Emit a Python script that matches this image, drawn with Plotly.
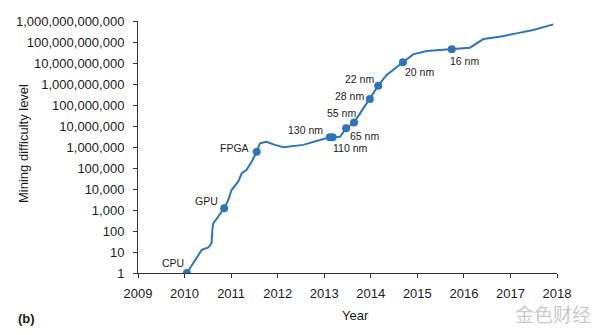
import math
import plotly.graph_objects as go

# Curve data (decimal year, mining difficulty)
years = [2010.05, 2010.19, 2010.30, 2010.37, 2010.51, 2010.58, 2010.60, 2010.62, 2010.72,
         2010.85, 2010.94, 2011.01, 2011.15, 2011.23, 2011.33, 2011.44, 2011.55, 2011.62,
         2011.76, 2011.94, 2012.12, 2012.55, 2012.91, 2013.12, 2013.18, 2013.34, 2013.47,
         2013.64, 2013.77, 2013.98, 2014.16, 2014.34, 2014.56, 2014.69, 2014.91, 2015.20,
         2015.74, 2016.13, 2016.42, 2016.77, 2017.13, 2017.49, 2017.92]
difficulty = [1, 2.9, 7.2, 12.6, 16.6, 25.7, 135, 234, 479,
              1200, 3020, 8900, 22400, 56200, 79400, 199500, 600000, 1510000,
              1780000, 1260000, 980000, 1260000, 2140000, 2900000, 2900000, 3090000, 7800000,
              14500000, 39800000, 195000000, 830000000, 2690000000, 6600000000, 11000000000,
              25700000000, 37200000000, 45000000000, 53700000000, 138000000000,
              178000000000, 257000000000, 372000000000, 690000000000]

# Hardware milestones
milestone_labels = ["CPU", "GPU", "FPGA", "130 nm", "110 nm", "65 nm", "55 nm",
                    "28 nm", "22 nm", "20 nm", "16 nm"]
milestone_years = [2010.05, 2010.85, 2011.55, 2013.12, 2013.18, 2013.47, 2013.64,
                   2013.98, 2014.16, 2014.69, 2015.74]
milestone_values = [1, 1200, 600000, 2900000, 2900000, 7800000, 14500000,
                    195000000, 830000000, 11000000000, 45000000000]

# Axis ticks
x_ticks = [2009, 2010, 2011, 2012, 2013, 2014, 2015, 2016, 2017, 2018]
y_tickvals = [1, 10, 100, 1000, 10000, 100000, 1000000, 10000000, 100000000,
              1000000000, 10000000000, 100000000000, 1000000000000]
y_ticktext = ["1", "10", "100", "1,000", "10,000", "100,000", "1,000,000", "10,000,000",
              "100,000,000", "1,000,000,000", "10,000,000,000", "100,000,000,000",
              "1,000,000,000,000"]

# label offsets in pixels (style, not data)
label_offsets = [(-14, 10), (-18, 7), (-22, 4), (-24, 7), (17, -11), (18, -8),
                 (-13, 10), (-20, 3), (-19, 7), (17, -10), (13, -12)]

BLUE = "#2e75b6"
FONT = "Liberation Sans, Arial, sans-serif"
TXT = "#1a1a1a"

fig = go.Figure()
fig.add_trace(go.Scatter(x=years, y=difficulty, mode="lines",
                         line=dict(color=BLUE, width=2), hoverinfo="skip"))
fig.add_trace(go.Scatter(x=milestone_years, y=milestone_values, mode="markers",
                         marker=dict(color=BLUE, size=8), hoverinfo="skip"))

for lab, xv, yv, (dx, dy) in zip(milestone_labels, milestone_years, milestone_values, label_offsets):
    fig.add_annotation(x=xv, y=math.log10(yv), xref="x", yref="y",
                       text=lab, showarrow=False, xshift=dx, yshift=dy,
                       font=dict(family=FONT, size=10.5, color=TXT))

fig.add_annotation(x=-0.275, y=0.515, xref="paper", yref="paper", text="Mining difficulty level",
                   textangle=-90, showarrow=False, xanchor="center", yanchor="middle",
                   font=dict(family=FONT, size=13, color=TXT))
fig.add_annotation(x=0.518, y=-0.17, xref="paper", yref="paper", text="Year",
                   showarrow=False, xanchor="center", yanchor="middle",
                   font=dict(family=FONT, size=13, color=TXT))
fig.add_annotation(x=-0.265, y=-0.18, xref="paper", yref="paper", text="<b>(b)</b>",
                   showarrow=False, xanchor="center", yanchor="middle",
                   font=dict(family=FONT, size=13, color=TXT))
fig.add_annotation(x=0.99, y=-0.16, xref="paper", yref="paper", text="金色财经",
                   showarrow=False, xanchor="center", yanchor="middle",
                   font=dict(family="Noto Sans CJK SC", size=19, color="#c9c9c9"))

fig.update_layout(
    width=600, height=335,
    margin=dict(l=138, r=43, t=21, b=62),
    paper_bgcolor="white", plot_bgcolor="white",
    showlegend=False,
    font=dict(family=FONT, size=13, color=TXT),
)
fig.update_xaxes(range=[2009, 2018], tickvals=x_ticks, ticktext=[str(t) for t in x_ticks],
                 showgrid=False, zeroline=False, showline=True, linecolor="#333333", linewidth=1,
                 ticks="outside", ticklen=4, tickcolor="#333333", ticklabelstandoff=4,
                 tickfont=dict(family=FONT, size=13, color=TXT))
fig.update_yaxes(type="log", range=[0, 12], tickvals=y_tickvals, ticktext=y_ticktext,
                 showgrid=False, zeroline=False, showline=True, linecolor="#333333", linewidth=1,
                 ticks="outside", ticklen=4, tickcolor="#333333", ticklabelstandoff=6,
                 tickfont=dict(family=FONT, size=13, color=TXT))

fig.write_html("out.html")
